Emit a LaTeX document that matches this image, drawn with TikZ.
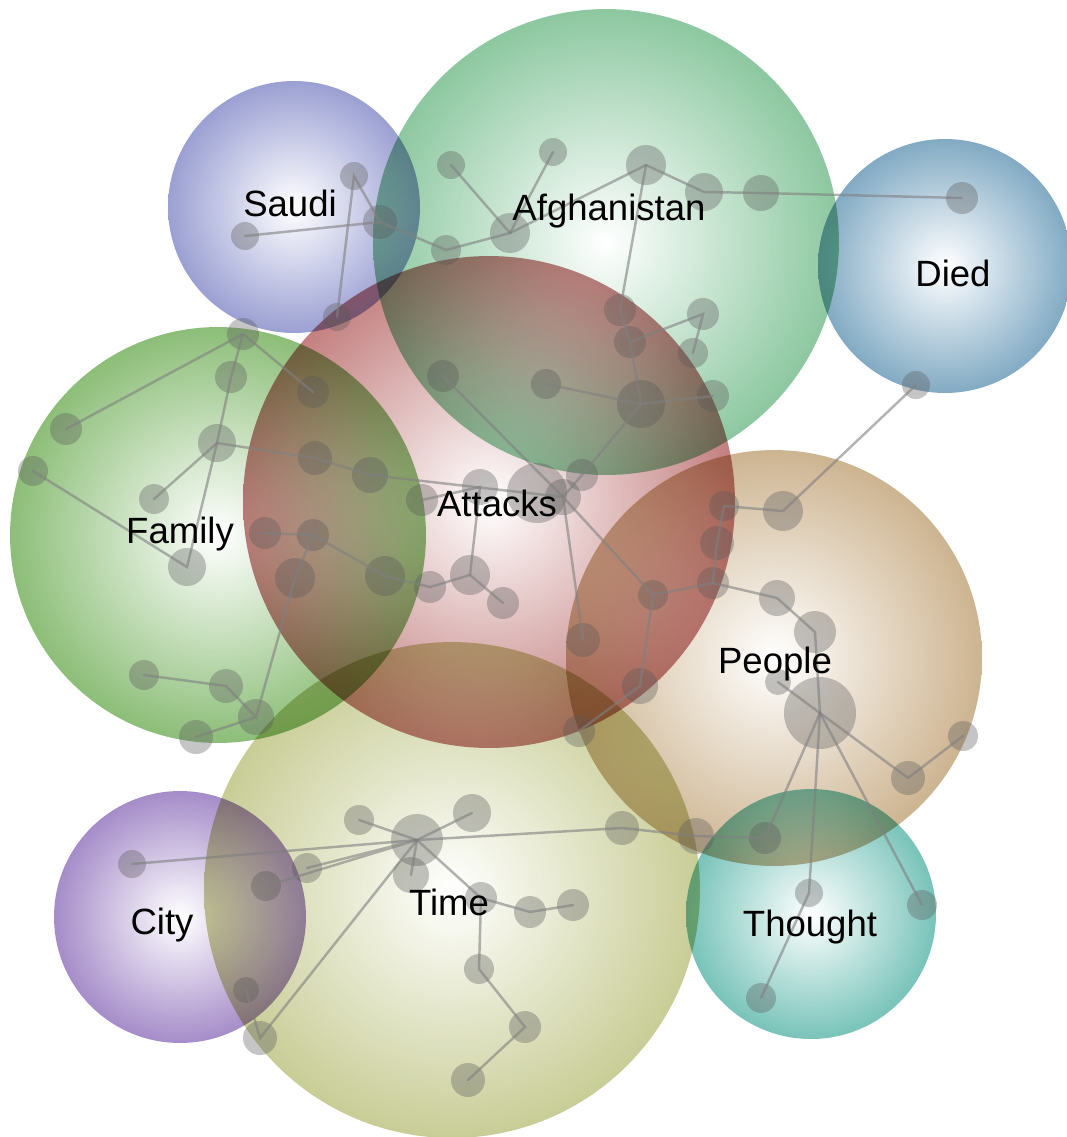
\documentclass[tikz,border=0pt]{standalone}
\usepackage{fontspec}
\setmainfont{Liberation Sans}
\usepackage{tikz}

\definecolor{saudiblue}{RGB}{121,128,195}
\definecolor{afghangreen}{RGB}{102,181,128}
\definecolor{diedblue}{RGB}{88,142,175}
\definecolor{attacksred}{RGB}{175,85,85}
\definecolor{familygreen}{RGB}{102,168,75}
\definecolor{peopletan}{RGB}{188,155,108}
\definecolor{timeolive}{RGB}{182,188,115}
\definecolor{citypurple}{RGB}{135,102,182}
\definecolor{thoughtteal}{RGB}{75,175,162}

\tikzset{
    topic/.style = {circle, inner sep=0pt, draw=none, inner color=white, fill opacity=0.75, blend mode=multiply},
    word/.style = {circle, inner sep=0pt, fill=black!65, fill opacity=0.35, minimum size=#1},
    word/.default = 0.6cm,
    link/.style = {line width=1.4pt, draw=black!50, draw opacity=0.6, line cap=round},
    topic label/.style = {anchor=base, inner sep=0pt, font=\fontsize{20.8}{25}\selectfont}
}

\begin{document}
\begin{tikzpicture}[x=0.02cm, y=-0.02cm]
        \useasboundingbox (0, 0) rectangle (1066, 1137);
        % place topic bubbles
        \node[topic, outer color=saudiblue, minimum size=5.04cm] (saudi) at (294, 207) {};
        \node[topic, outer color=afghangreen, minimum size=9.32cm] (afghanistan) at (606, 242) {};
        \node[topic, outer color=diedblue, minimum size=5.08cm] (died) at (945, 266) {};
        \node[topic, outer color=familygreen, minimum size=8.32cm] (family) at (218, 535) {};
        \node[topic, outer color=peopletan, minimum size=8.32cm] (people) at (774, 658) {};
        \node[topic, outer color=timeolive, minimum size=9.92cm] (time) at (452, 890) {};
        \node[topic, outer color=citypurple, minimum size=5.04cm] (city) at (180, 917) {};
        \node[topic, outer color=thoughtteal, minimum size=5cm] (thought) at (811, 914) {};
        \node[topic, outer color=attacksred, minimum size=9.84cm] (attacks) at (489, 502) {};

        % place word nodes
        \node[word=0.56cm] (saudi-1) at (245, 236) {};
        \node[word=0.56cm] (saudi-2) at (354, 176) {};
        \node[word=0.68cm] (saudi-3) at (380, 222) {};
        \node[word=0.56cm] (saudi-4) at (337, 317) {};
        \node[word=0.56cm] (afghanistan-1) at (451, 165) {};
        \node[word=0.56cm] (afghanistan-2) at (553, 152) {};
        \node[word=0.8cm] (afghanistan-3) at (646, 165) {};
        \node[word=0.76cm] (afghanistan-4) at (704, 192) {};
        \node[word=0.72cm] (afghanistan-5) at (761, 193) {};
        \node[word=0.8cm] (afghanistan-6) at (510, 233) {};
        \node[word] (afghanistan-7) at (446, 250) {};
        \node[word=0.64cm] (afghanistan-8) at (620, 310) {};
        \node[word=0.64cm] (afghanistan-9) at (630, 342) {};
        \node[word=0.64cm] (afghanistan-10) at (703, 314) {};
        \node[word] (afghanistan-11) at (693, 353) {};
        \node[word=0.96cm] (afghanistan-12) at (641, 404) {};
        \node[word] (afghanistan-13) at (546, 384) {};
        \node[word=0.64cm] (afghanistan-14) at (713, 396) {};
        \node[word=0.64cm] (afghanistan-15) at (443, 376) {};
        \node[word=0.64cm] (died-1) at (962, 198) {};
        \node[word=0.56cm] (died-2) at (916, 385) {};
        \node[word=1.2cm] (attacks-1) at (537, 493) {};
        \node[word=0.72cm] (attacks-2) at (563, 497) {};
        \node[word=0.64cm] (attacks-3) at (582, 475) {};
        \node[word=0.72cm] (attacks-4) at (480, 487) {};
        \node[word=0.64cm] (attacks-5) at (422, 500) {};
        \node[word=0.8cm] (attacks-6) at (470, 575) {};
        \node[word=0.64cm] (attacks-7) at (430, 587) {};
        \node[word=0.64cm] (attacks-8) at (503, 603) {};
        \node[word=0.8cm] (attacks-9) at (385, 576) {};
        \node[word=0.68cm] (attacks-10) at (583, 640) {};
        \node[word] (attacks-11) at (653, 595) {};
        \node[word=0.72cm] (attacks-12) at (640, 686) {};
        \node[word=0.64cm] (attacks-13) at (579, 731) {};
        \node[word=0.64cm] (family-1) at (243, 334) {};
        \node[word=0.64cm] (family-2) at (66, 429) {};
        \node[word=0.64cm] (family-3) at (231, 377) {};
        \node[word=0.64cm] (family-4) at (313, 392) {};
        \node[word=0.76cm] (family-5) at (217, 443) {};
        \node[word=0.68cm] (family-6) at (315, 458) {};
        \node[word=0.72cm] (family-7) at (370, 475) {};
        \node[word] (family-8) at (33, 471) {};
        \node[word] (family-9) at (154, 499) {};
        \node[word=0.76cm] (family-10) at (187, 567) {};
        \node[word=0.64cm] (family-11) at (265, 533) {};
        \node[word=0.64cm] (family-12) at (313, 535) {};
        \node[word=0.8cm] (family-13) at (295, 578) {};
        \node[word] (family-14) at (144, 675) {};
        \node[word=0.68cm] (family-15) at (226, 686) {};
        \node[word=0.72cm] (family-16) at (256, 717) {};
        \node[word=0.68cm] (family-17) at (196, 737) {};
        \node[word=0.8cm] (people-1) at (783, 511) {};
        \node[word] (people-2) at (724, 506) {};
        \node[word=0.68cm] (people-3) at (717, 543) {};
        \node[word=0.64cm] (people-4) at (713, 583) {};
        \node[word=0.72cm] (people-5) at (777, 598) {};
        \node[word=0.84cm] (people-6) at (815, 632) {};
        \node[word=1.44cm] (people-7) at (820, 713) {};
        \node[word=0.52cm] (people-8) at (778, 682) {};
        \node[word=0.68cm] (people-9) at (908, 778) {};
        \node[word] (people-10) at (963, 736) {};
        \node[word=0.64cm] (thought-1) at (765, 838) {};
        \node[word=0.56cm] (thought-2) at (809, 893) {};
        \node[word] (thought-3) at (761, 998) {};
        \node[word] (thought-4) at (922, 905) {};
        \node[word=1.04cm] (time-1) at (417, 840) {};
        \node[word] (time-2) at (359, 820) {};
        \node[word=0.76cm] (time-3) at (472, 813) {};
        \node[word=0.72cm] (time-4) at (411, 875) {};
        \node[word] (time-5) at (307, 868) {};
        \node[word] (time-6) at (266, 886) {};
        \node[word=0.68cm] (time-7) at (260, 1038) {};
        \node[word=0.64cm] (time-8) at (481, 898) {};
        \node[word=0.64cm] (time-9) at (530, 912) {};
        \node[word=0.64cm] (time-10) at (573, 905) {};
        \node[word] (time-11) at (479, 969) {};
        \node[word=0.64cm] (time-12) at (525, 1027) {};
        \node[word=0.68cm] (time-13) at (468, 1080) {};
        \node[word=0.68cm] (time-14) at (622, 828) {};
        \node[word=0.72cm] (time-15) at (696, 836) {};
        \node[word=0.56cm] (city-1) at (132, 864) {};
        \node[word=0.52cm] (city-2) at (246, 990) {};

        % draw links in the top half
        \draw[link] (saudi-1.center) -- (saudi-3.center) -- (afghanistan-7.center) -- (afghanistan-6.center);
        \draw[link] (saudi-4.center) -- (saudi-2.center) -- (saudi-3.center);
        \draw[link] (afghanistan-1.center) -- (afghanistan-6.center) -- (afghanistan-3.center) -- (afghanistan-4.center) -- (afghanistan-5.center) -- (died-1.center);
        \draw[link] (afghanistan-2.center) -- (afghanistan-6.center);
        \draw[link] (afghanistan-3.center) -- (afghanistan-8.center) -- (afghanistan-9.center) -- (afghanistan-12.center);
        \draw[link] (afghanistan-9.center) -- (afghanistan-10.center) -- (afghanistan-11.center);
        \draw[link] (afghanistan-13.center) -- (afghanistan-12.center) -- (afghanistan-14.center);
        \draw[link] (afghanistan-12.center) -- (attacks-3.center) -- (attacks-2.center);
        \draw[link] (afghanistan-15.center) -- (attacks-2.center);
        \draw[link] (family-2.center) -- (family-1.center) -- (family-4.center);
        \draw[link] (family-1.center) -- (family-3.center) -- (family-5.center) -- (family-10.center) -- (family-8.center);
        \draw[link] (family-9.center) -- (family-5.center) -- (family-6.center) -- (family-7.center) -- (attacks-2.center);
        % draw links in the middle
        \draw[link] (attacks-5.center) -- (attacks-4.center) -- (attacks-6.center) -- (attacks-8.center);
        \draw[link] (attacks-6.center) -- (attacks-7.center) -- (attacks-9.center) -- (family-12.center) -- (family-11.center);
        \draw[link] (family-12.center) -- (family-13.center) -- (family-16.center) -- (family-15.center) -- (family-14.center);
        \draw[link] (family-16.center) -- (family-17.center);
        \draw[link] (attacks-10.center) -- (attacks-2.center) -- (attacks-11.center) -- (people-4.center);
        \draw[link] (attacks-11.center) -- (attacks-12.center) -- (attacks-13.center);
        \draw[link] (people-4.center) -- (people-3.center) -- (people-2.center) -- (people-1.center) -- (died-2.center);
        \draw[link] (people-4.center) -- (people-5.center) -- (people-6.center) -- (people-7.center);
        \draw[link] (people-8.center) -- (people-7.center) -- (people-9.center) -- (people-10.center);
        % draw links in the bottom half
        \draw[link] (thought-1.center) -- (people-7.center) -- (thought-4.center);
        \draw[link] (people-7.center) -- (thought-2.center) -- (thought-3.center);
        \draw[link] (time-2.center) -- (time-1.center) -- (time-3.center);
        \draw[link] (time-1.center) -- (time-4.center);
        \draw[link] (time-5.center) -- (time-1.center) -- (time-6.center);
        \draw[link] (city-1.center) -- (time-1.center);
        \draw[link] (time-1.center) -- (time-7.center) -- (city-2.center);
        \draw[link] (time-1.center) -- (time-8.center) -- (time-9.center) -- (time-10.center);
        \draw[link] (time-8.center) -- (time-11.center) -- (time-12.center) -- (time-13.center);
        \draw[link] (time-1.center) -- (time-14.center) -- (time-15.center) -- (thought-1.center);

        % add topic labels
        \node[topic label] (saudi-label) at (290, 216) {Saudi};
        \node[topic label] (afghanistan-label) at (609, 220) {Afghanistan};
        \node[topic label] (died-label) at (953, 286) {Died};
        \node[topic label] (family-label) at (180, 543) {Family};
        \node[topic label] (attacks-label) at (497, 516) {Attacks};
        \node[topic label] (people-label) at (775, 673) {People};
        \node[topic label] (city-label) at (162, 934) {City};
        \node[topic label] (time-label) at (449, 915) {Time};
        \node[topic label] (thought-label) at (810, 936) {Thought};
    \end{tikzpicture}
\end{document}
